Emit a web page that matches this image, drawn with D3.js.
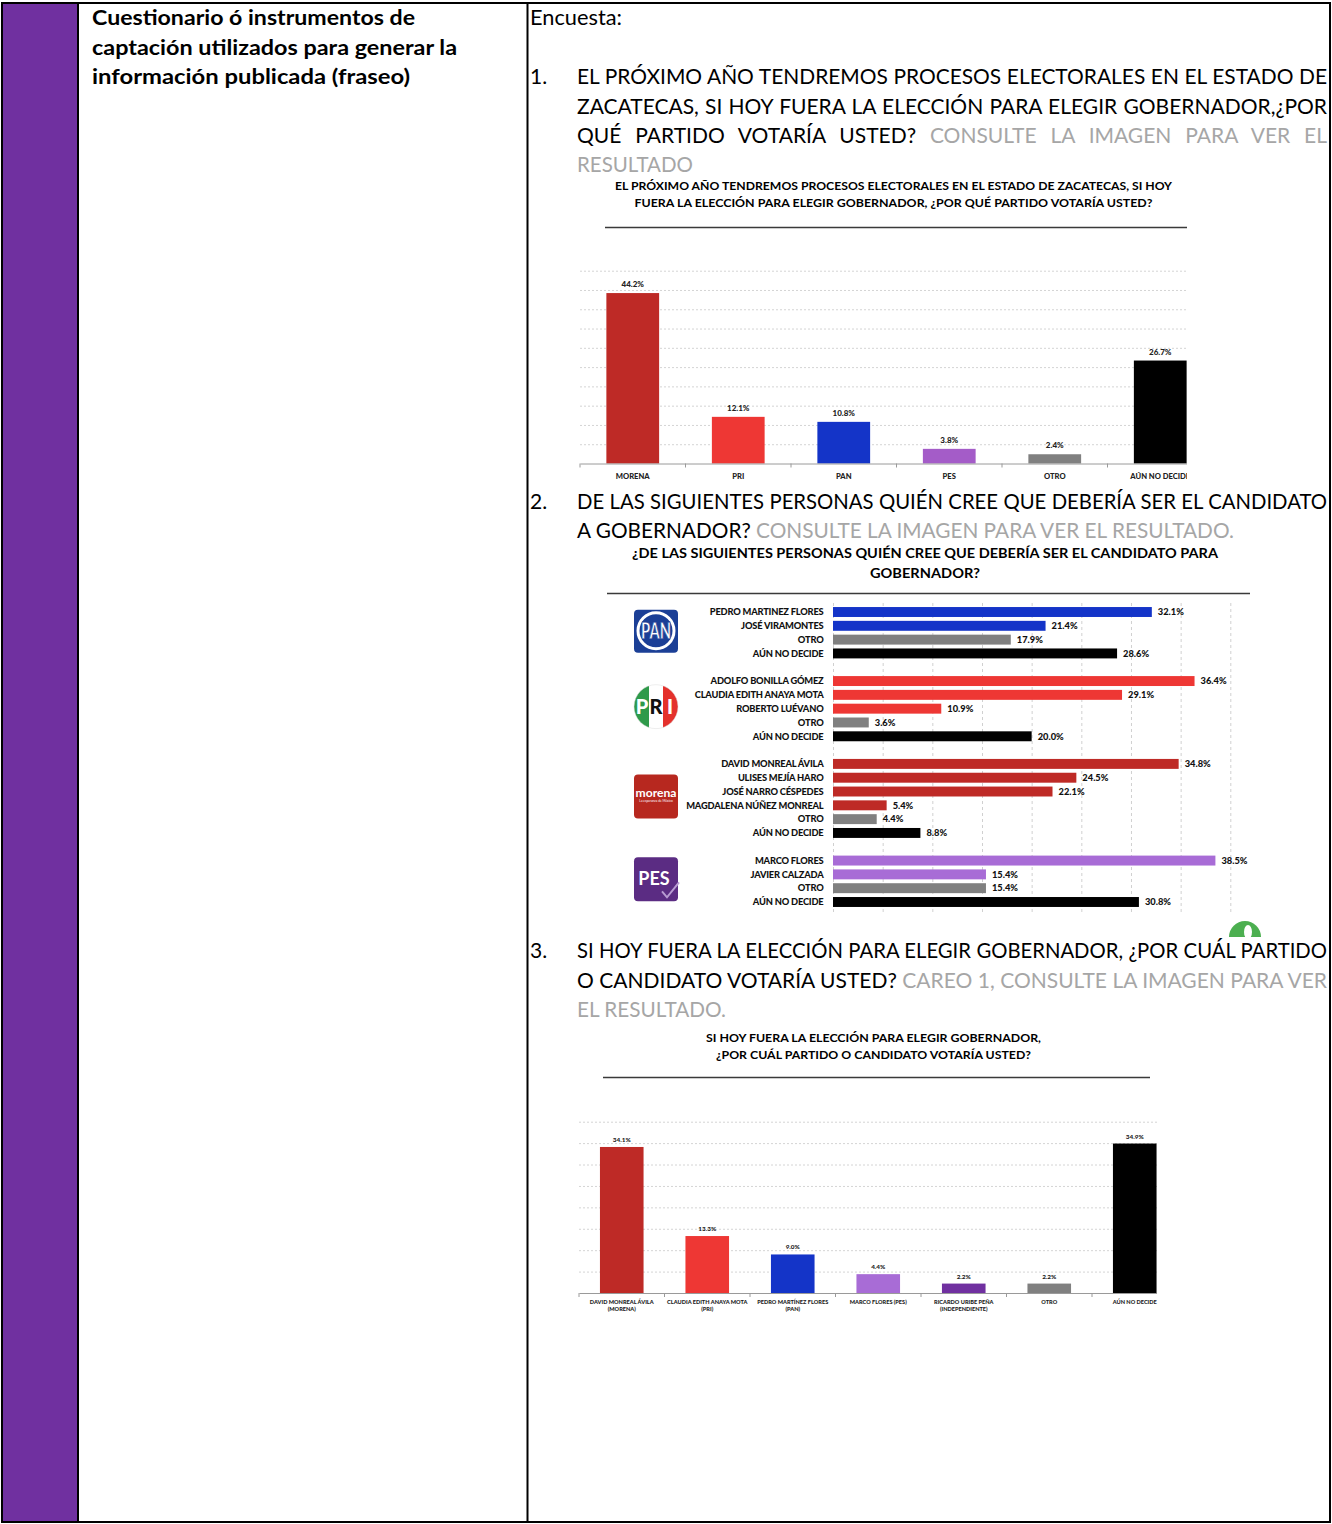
<!DOCTYPE html>
<html><head><meta charset="utf-8">
<script src="https://cdn.jsdelivr.net/npm/d3@7"></script>
<style>
html,body{margin:0;padding:0;background:#fff;}
svg{display:block;}
text{font-family:Lato,"Open Sans",sans-serif;}
</style></head><body>
<svg id="page" width="1332" height="1524"></svg>
<script>
// ---------------- DATA ----------------
const c1Categories = ["MORENA", "PRI", "PAN", "PES", "OTRO", "AÚN NO DECIDE"];
const c1Values = [44.2, 12.1, 10.8, 3.8, 2.4, 26.7];
const c1Colors = ["#BE2A26", "#EE3734", "#1434C8", "#A45CC8", "#808080", "#000000"];
const c1GridTicks = [5, 10, 15, 20, 25, 30, 35, 40, 45, 50];

const c2Parties = ["PAN", "PRI", "MORENA", "PES"];
const c2PanNames = ["PEDRO MARTINEZ FLORES", "JOSÉ VIRAMONTES", "OTRO", "AÚN NO DECIDE"];
const c2PanValues = [32.1, 21.4, 17.9, 28.6];
const c2PriNames = ["ADOLFO BONILLA GÓMEZ", "CLAUDIA EDITH ANAYA MOTA", "ROBERTO LUÉVANO", "OTRO", "AÚN NO DECIDE"];
const c2PriValues = [36.4, 29.1, 10.9, 3.6, 20.0];
const c2MorenaNames = ["DAVID MONREAL ÁVILA", "ULISES MEJÍA HARO", "JOSÉ NARRO CÉSPEDES", "MAGDALENA NÚÑEZ MONREAL", "OTRO", "AÚN NO DECIDE"];
const c2MorenaValues = [34.8, 24.5, 22.1, 5.4, 4.4, 8.8];
const c2PesNames = ["MARCO FLORES", "JAVIER CALZADA", "OTRO", "AÚN NO DECIDE"];
const c2PesValues = [38.5, 15.4, 15.4, 30.8];
const c2PartyColors = {PAN: "#1434C8", PRI: "#EE3734", MORENA: "#BE2A26", PES: "#A86CD6"};
const c2GridTicks = [0, 5, 10, 15, 20, 25, 30, 35, 40];

const c3Categories = ["DAVID MONREAL ÁVILA|(MORENA)", "CLAUDIA EDITH ANAYA MOTA|(PRI)", "PEDRO MARTÍNEZ FLORES|(PAN)", "MARCO FLORES (PES)", "RICARDO URIBE PEÑA|(INDEPENDIENTE)", "OTRO", "AÚN NO DECIDE"];
const c3Values = [34.1, 13.3, 9.0, 4.4, 2.2, 2.2, 34.9];
const c3Colors = ["#BE2A26", "#EE3734", "#1434C8", "#A86CD6", "#7030A0", "#808080", "#000000"];
const c3GridTicks = [5, 10, 15, 20, 25, 30, 35, 40];

// ---------------- TEXTS ----------------
const GRAY = "#A6A6A6";
const headerLines = ["Cuestionario ó instrumentos de", "captación utilizados para generar la", "información publicada (fraseo)"];

// ---------------- HELPERS ----------------
const svg = d3.select("#page");

function textLine(parent, x, y, segs, o) {
  const t = parent.append("text").attr("x", x).attr("y", y)
    .attr("font-size", o.size).attr("font-weight", o.weight || 400)
    .attr("text-anchor", o.anchor || "start");
  segs.forEach(s => t.append("tspan").attr("fill", s[1] || "#000").text(s[0]));
  if (o.width) {
    let w = t.node().getComputedTextLength();
    const full = segs.map(s => s[0]).join("");
    const spaces = (full.match(/ /g) || []).length;
    if (o.justify) {
      if (w > o.width) {
        t.attr("font-size", o.size * o.width / w * 0.998);
        w = t.node().getComputedTextLength();
      }
      if (w < o.width && spaces) t.style("word-spacing", ((o.width - w) / spaces) + "px");
    } else {
      t.attr("textLength", o.width).attr("lengthAdjust", "spacingAndGlyphs");
    }
  }
  return t;
}

// ---------------- TABLE FRAME ----------------
const frame = svg.append("g");
frame.append("rect").attr("x", 3).attr("y", 4).attr("width", 74).attr("height", 1518).attr("fill", "#7030A0");
frame.append("rect").attr("x", 2).attr("y", 3).attr("width", 1328).attr("height", 1519)
  .attr("fill", "none").attr("stroke", "#000").attr("stroke-width", 2);
frame.append("line").attr("x1", 78).attr("x2", 78).attr("y1", 3).attr("y2", 1522).attr("stroke", "#000").attr("stroke-width", 2);
frame.append("line").attr("x1", 527.5).attr("x2", 527.5).attr("y1", 3).attr("y2", 1522).attr("stroke", "#000").attr("stroke-width", 2);

// header (left column)
const hdr = svg.append("g");
const hdrW = [323, 365, 318];
headerLines.forEach((l, i) => textLine(hdr, 92, 25 + i * 29.5, [[l]], {size: 21, weight: 700, width: hdrW[i]}));

// right column texts
const body = svg.append("g");
const FS = 21;
const LW = 750;
textLine(body, 530, 25, [["Encuesta:"]], {size: FS, width: 92});
// Q1
textLine(body, 530, 84, [["1."]], {size: FS});
textLine(body, 577, 84, [["EL PRÓXIMO AÑO TENDREMOS PROCESOS ELECTORALES EN EL ESTADO DE"]], {size: FS, width: LW, justify: true});
textLine(body, 577, 113.5, [["ZACATECAS, SI HOY FUERA LA ELECCIÓN PARA ELEGIR GOBERNADOR,¿POR"]], {size: FS, width: LW, justify: true});
textLine(body, 577, 143, [["QUÉ PARTIDO VOTARÍA USTED? "], ["CONSULTE LA IMAGEN PARA VER EL", GRAY]], {size: FS, width: LW, justify: true});
textLine(body, 577, 172, [["RESULTADO", GRAY]], {size: FS, width: 116});
// Q2
textLine(body, 530, 509, [["2."]], {size: FS});
textLine(body, 577, 509, [["DE LAS SIGUIENTES PERSONAS QUIÉN CREE QUE DEBERÍA SER EL CANDIDATO"]], {size: FS, width: LW, justify: true});
textLine(body, 577, 538, [["A GOBERNADOR? "], ["CONSULTE LA IMAGEN PARA VER EL RESULTADO.", GRAY]], {size: FS, width: 657});
// Q3
textLine(body, 530, 958, [["3."]], {size: FS});
textLine(body, 577, 958, [["SI HOY FUERA LA ELECCIÓN PARA ELEGIR GOBERNADOR, ¿POR CUÁL PARTIDO"]], {size: FS, width: LW, justify: true});
textLine(body, 577, 988, [["O CANDIDATO VOTARÍA USTED? "], ["CAREO 1, CONSULTE LA IMAGEN PARA VER", GRAY]], {size: FS, width: LW, justify: true});
textLine(body, 577, 1017, [["EL RESULTADO.", GRAY]], {size: FS, width: 149});

// ---------------- COLUMN CHART ----------------
function columnChart(cfg) {
  const root = svg.append("g");
  cfg.title.forEach((l, i) => textLine(root, cfg.titleX, cfg.titleY[i], [[l]], {size: cfg.titleSize, weight: 700, anchor: "middle", width: cfg.titleW[i]}));
  root.append("line").attr("x1", cfg.rule[0]).attr("x2", cfg.rule[1]).attr("y1", cfg.rule[2]).attr("y2", cfg.rule[2])
    .attr("stroke", "#3a3a3a").attr("stroke-width", 1.5);

  const clipId = cfg.id + "-clip";
  root.append("clipPath").attr("id", clipId).append("rect")
    .attr("x", cfg.x0 - 2).attr("y", cfg.yTop - 20).attr("width", cfg.clipRight - cfg.x0 + 2).attr("height", cfg.yBase - cfg.yTop + 60);
  const g = root.append("g").attr("clip-path", `url(#${clipId})`);
  const lg = cfg.clipLabels ? g : root.append("g");

  const x = d3.scaleBand().domain(cfg.keys).range([cfg.x0, cfg.x1]).paddingInner(cfg.pin).paddingOuter(cfg.pin / 2);
  const y = d3.scaleLinear().domain([0, cfg.max]).range([cfg.yBase, cfg.yTop]);

  const grid = g.append("g").attr("transform", `translate(${cfg.x0},0)`)
    .call(d3.axisLeft(y).tickValues(cfg.ticks).tickSize(-(cfg.x1 - cfg.x0)).tickFormat(""));
  grid.select(".domain").remove();
  grid.selectAll(".tick line").attr("stroke", "#d4d4d4").attr("stroke-dasharray", "2,2");

  g.selectAll("rect.bar").data(cfg.keys).join("rect").attr("class", "bar")
    .attr("x", d => x(d)).attr("width", x.bandwidth())
    .attr("y", (d, i) => y(cfg.values[i])).attr("height", (d, i) => y(0) - y(cfg.values[i]))
    .attr("fill", (d, i) => cfg.colors[i]);

  g.selectAll("text.val").data(cfg.keys).join("text").attr("class", "val")
    .attr("x", d => x(d) + x.bandwidth() / 2).attr("y", (d, i) => y(cfg.values[i]) - cfg.valGap)
    .attr("text-anchor", "middle").attr("font-size", cfg.valSize).attr("font-weight", 900).attr("fill", "#222")
    .text((d, i) => cfg.values[i].toFixed(1) + "%");

  const ax = g.append("g").attr("transform", `translate(0,${cfg.yBase})`)
    .call(d3.axisBottom(x).tickSize(0).tickSizeOuter(0).tickFormat(""));
  ax.select(".domain").attr("stroke", "#9a9a9a").attr("stroke-width", 1);
  g.selectAll("line.bt").data(d3.range(cfg.keys.length + 1)).join("line").attr("class", "bt")
    .attr("x1", i => cfg.x0 + i * x.step()).attr("x2", i => cfg.x0 + i * x.step())
    .attr("y1", cfg.yBase).attr("y2", cfg.yBase + 4).attr("stroke", "#9a9a9a");

  const lab = lg.selectAll("text.cat").data(cfg.keys).join("text").attr("class", "cat")
    .attr("x", d => x(d) + x.bandwidth() / 2).attr("y", cfg.yBase + cfg.labGap)
    .attr("text-anchor", "middle").attr("font-size", cfg.labSize).attr("font-weight", 900).attr("fill", "#222");
  lab.each(function (d) {
    const parts = d.split("|");
    const t = d3.select(this);
    parts.forEach((p, j) => t.append("tspan").attr("x", x(d) + x.bandwidth() / 2).attr("dy", j ? cfg.labSize * 1.35 : 0).text(p));
  });
}

columnChart({
  id: "c1",
  title: ["EL PRÓXIMO AÑO TENDREMOS PROCESOS ELECTORALES EN EL ESTADO DE ZACATECAS, SI HOY",
          "FUERA LA ELECCIÓN PARA ELEGIR GOBERNADOR, ¿POR QUÉ PARTIDO VOTARÍA USTED?"],
  titleX: 893.5, titleY: [189.5, 206.5], titleSize: 12, titleW: [557, 518],
  rule: [605, 1187, 227.5],
  keys: c1Categories, values: c1Values, colors: c1Colors, ticks: c1GridTicks, max: 50,
  x0: 580, x1: 1213, clipRight: 1187, clipLabels: true, pin: 0.5, yBase: 463.5, yTop: 270.7,
  valSize: 8, valGap: 6, labSize: 7.6, labGap: 15
});

columnChart({
  id: "c3",
  title: ["SI HOY FUERA LA ELECCIÓN PARA ELEGIR GOBERNADOR,", "¿POR CUÁL PARTIDO O CANDIDATO VOTARÍA USTED?"],
  titleX: 873.5, titleY: [1041.5, 1058.5], titleSize: 12, titleW: [335, 315],
  rule: [603, 1150, 1077.5],
  keys: c3Categories, values: c3Values, colors: c3Colors, ticks: c3GridTicks, max: 40,
  x0: 579, x1: 1177.5, clipRight: 1157, clipLabels: false, pin: 0.49, yBase: 1293, yTop: 1121.7,
  valSize: 6.4, valGap: 5, labSize: 5.6, labGap: 10.5
});

// ---------------- HORIZONTAL GROUPED BAR CHART ----------------
(function () {
  const root = svg.append("g");
  textLine(root, 925, 558, [["¿DE LAS SIGUIENTES PERSONAS QUIÉN CREE QUE DEBERÍA SER EL CANDIDATO PARA"]], {size: 14, weight: 700, anchor: "middle", width: 586});
  textLine(root, 925, 578, [["GOBERNADOR?"]], {size: 14, weight: 700, anchor: "middle", width: 110});
  root.append("line").attr("x1", 607).attr("x2", 1250).attr("y1", 593.5).attr("y2", 593.5).attr("stroke", "#3a3a3a").attr("stroke-width", 1.5);

  const groups = [
    {party: c2Parties[0], names: c2PanNames, values: c2PanValues},
    {party: c2Parties[1], names: c2PriNames, values: c2PriValues},
    {party: c2Parties[2], names: c2MorenaNames, values: c2MorenaValues},
    {party: c2Parties[3], names: c2PesNames, values: c2PesValues}
  ];
  const rows = [];
  const keys = [];
  groups.forEach((gr, gi) => {
    gr.names.forEach((n, i) => {
      const key = gr.party + ":" + i;
      keys.push(key);
      let color = c2PartyColors[gr.party];
      if (n === "OTRO") color = "#808080";
      if (n === "AÚN NO DECIDE") color = "#000000";
      rows.push({key, name: n, value: gr.values[i], color, party: gr.party});
    });
    if (gi < groups.length - 1) keys.push("gap" + gi);
  });

  const x = d3.scaleLinear().domain([0, 40]).range([833, 1230.3]);
  const y = d3.scaleBand().domain(keys).range([605.1, 908.9]).paddingInner(0.28).paddingOuter(0.14);

  const grid = root.append("g").attr("transform", "translate(0,603)")
    .call(d3.axisBottom(x).tickValues(c2GridTicks).tickSize(310).tickFormat(""));
  grid.select(".domain").remove();
  grid.selectAll(".tick line").attr("stroke", "#d0d0d0").attr("stroke-dasharray", "3,3");

  root.selectAll("rect.hbar").data(rows).join("rect").attr("class", "hbar")
    .attr("x", x(0)).attr("y", d => y(d.key)).attr("height", y.bandwidth())
    .attr("width", d => x(d.value) - x(0)).attr("fill", d => d.color);

  root.selectAll("text.name").data(rows).join("text").attr("class", "name")
    .attr("x", 823.5).attr("y", d => y(d.key) + y.bandwidth() / 2 + 3.3)
    .attr("text-anchor", "end").attr("font-size", 9.3).attr("font-weight", 900).attr("fill", "#111")
    .attr("letter-spacing", -0.2)
    .text(d => d.name);

  root.selectAll("text.hval").data(rows).join("text").attr("class", "hval")
    .attr("x", d => x(d.value) + 6).attr("y", d => y(d.key) + y.bandwidth() / 2 + 3.3)
    .attr("font-size", 9.3).attr("font-weight", 900).attr("fill", "#111")
    .text(d => d.value.toFixed(1) + "%");

  // party logos
  const logos = root.append("g");
  groups.forEach(gr => {
    const first = y(gr.party + ":0");
    const last = y(gr.party + ":" + (gr.names.length - 1)) + y.bandwidth();
    const cy = (first + last) / 2 - 2;
    const cx = 656;
    const lg = logos.append("g").attr("transform", `translate(${cx},${cy})`);
    if (gr.party === "PAN") {
      lg.append("rect").attr("x", -22).attr("y", -21).attr("width", 44).attr("height", 43).attr("rx", 4).attr("fill", "#1B3F96");
      lg.append("circle").attr("r", 18).attr("fill", "none").attr("stroke", "#fff").attr("stroke-width", 3);
      lg.append("text").attr("y", 8).attr("text-anchor", "middle").attr("font-size", 23).attr("font-weight", 900)
        .attr("fill", "#fff").attr("stroke", "#1B3F96").attr("stroke-width", 0.8).attr("textLength", 30).attr("lengthAdjust", "spacingAndGlyphs").text("PAN");
    } else if (gr.party === "PRI") {
      const cid = "priclip";
      lg.append("clipPath").attr("id", cid).append("circle").attr("r", 22);
      const cg = lg.append("g").attr("clip-path", `url(#${cid})`);
      cg.append("rect").attr("x", -22).attr("y", -22).attr("width", 15).attr("height", 44).attr("fill", "#2F9A4A");
      cg.append("rect").attr("x", -7).attr("y", -22).attr("width", 14).attr("height", 44).attr("fill", "#fff");
      cg.append("rect").attr("x", 7).attr("y", -22).attr("width", 15).attr("height", 44).attr("fill", "#E4312C");
      lg.append("circle").attr("r", 22).attr("fill", "none").attr("stroke", "#ddd").attr("stroke-width", 0.5);
      [["P", -14, "#fff"], ["R", 0, "#111"], ["I", 14, "#fff"]].forEach(p => {
        lg.append("text").attr("x", p[1]).attr("y", 7).attr("text-anchor", "middle").attr("font-size", 20).attr("font-weight", 900)
          .attr("fill", p[2]).text(p[0]);
      });
    } else if (gr.party === "MORENA") {
      lg.append("rect").attr("x", -22).attr("y", -22).attr("width", 44).attr("height", 44).attr("rx", 4).attr("fill", "#B7281F");
      lg.append("text").attr("y", 1).attr("text-anchor", "middle").attr("font-size", 12).attr("font-weight", 700).attr("fill", "#fff")
        .attr("textLength", 41).attr("lengthAdjust", "spacingAndGlyphs").text("morena");
      lg.append("text").attr("y", 6).attr("text-anchor", "middle").attr("font-size", 3.2).attr("fill", "#fff").text("La esperanza de México");
    } else {
      lg.append("rect").attr("x", -22).attr("y", -22).attr("width", 44).attr("height", 44).attr("rx", 4).attr("fill", "#5B2C83");
      lg.append("text").attr("x", -2).attr("y", 6).attr("text-anchor", "middle").attr("font-size", 18).attr("font-weight", 700).attr("fill", "#fff").text("PES");
      lg.append("path").attr("d", "M6,12 L11,18 L23,3").attr("fill", "none").attr("stroke", "#B89BD2").attr("stroke-width", 2);
    }
  });
})();

// partial green badge (cropped in the source image)
(function () {
  const g = svg.append("g");
  g.append("clipPath").attr("id", "badgeclip").append("rect").attr("x", 1225).attr("y", 915).attr("width", 40).attr("height", 22);
  const b = g.append("g").attr("clip-path", "url(#badgeclip)");
  b.append("circle").attr("cx", 1245).attr("cy", 937).attr("r", 16).attr("fill", "#4CAF50");
  b.append("ellipse").attr("cx", 1248).attr("cy", 932).attr("rx", 4).attr("ry", 7).attr("fill", "#fff");
})();
</script>
</body></html>
